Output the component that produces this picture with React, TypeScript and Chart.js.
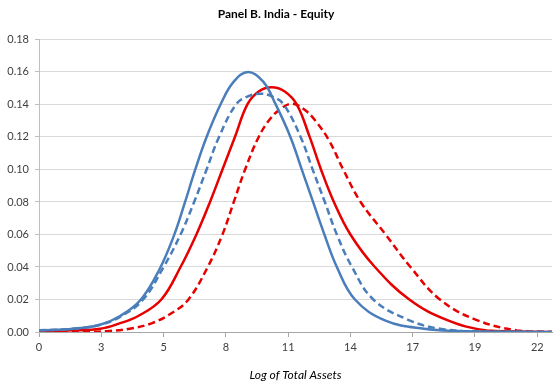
import React, { useEffect, useRef } from "react";
import { Chart, registerables } from "chart.js";

Chart.register(...registerables);

const chartTitle = "Panel B. India - Equity";
const xTitle = "Log of Total Assets";
const xTickLabels = ["0", "3", "5", "8", "11", "14", "17", "19", "22"];
const xTickStep = 2.75;
const xMax = 22.65;
const yTickValues = [0, 0.02, 0.04, 0.06, 0.08, 0.1, 0.12, 0.14, 0.16, 0.18];

// Blue solid
const blueSolidX = [0, 1.5, 2.7, 3.6, 4.5, 5.3, 5.95, 6.45, 6.9, 7.4, 8.05, 8.6, 9.24, 9.9, 10.45, 11.1, 11.6, 12.1, 12.6, 13.15, 13.95, 15.3, 17.0, 18.85, 22.65];
const blueSolidY = [0.001, 0.002, 0.0045, 0.01, 0.02, 0.038, 0.059, 0.08, 0.1, 0.12, 0.141, 0.154, 0.16, 0.154, 0.14, 0.12, 0.1, 0.08, 0.06, 0.04, 0.02, 0.007, 0.002, 0.0005, 0];

// Blue dashed
const blueDashX = [0, 1.5, 2.7, 3.6, 4.6, 5.5, 6.25, 6.85, 7.4, 7.95, 8.7, 9.2, 9.76, 10.3, 10.8, 11.55, 12.08, 12.62, 13.15, 13.82, 14.76, 16.3, 17.7, 19.5, 22.65];
const blueDashY = [0.001, 0.002, 0.0045, 0.0095, 0.02, 0.04, 0.06, 0.08, 0.1, 0.12, 0.14, 0.1448, 0.1466, 0.1448, 0.14, 0.12, 0.1, 0.08, 0.06, 0.04, 0.02, 0.0075, 0.002, 0.0003, 0];

// Red solid
const redSolidX = [0, 1.5, 2.7, 3.5, 4.4, 5.4, 6.25, 6.95, 7.55, 8.1, 8.65, 9.2, 9.7, 10.27, 10.85, 11.38, 11.95, 12.45, 13.02, 13.75, 14.83, 16.35, 18.0, 19.77, 22.65];
const redSolidY = [0.0005, 0.001, 0.002, 0.005, 0.01, 0.02, 0.04, 0.06, 0.08, 0.1, 0.12, 0.14, 0.148, 0.1506, 0.148, 0.14, 0.12, 0.1, 0.08, 0.06, 0.04, 0.02, 0.0075, 0.001, 0];

// Red dashed
const redDashX = [0, 2.0, 3.0, 4.0, 5.0, 5.9, 6.6, 7.45, 8.1, 8.6, 9.1, 9.7, 10.2, 10.65, 11.16, 11.7, 12.2, 12.8, 13.43, 14.2, 15.3, 16.4, 17.7, 19.3, 21.1, 22.65];
const redDashY = [0, 0, 0.0005, 0.002, 0.0055, 0.012, 0.02, 0.04, 0.06, 0.08, 0.1, 0.12, 0.131, 0.137, 0.1404, 0.137, 0.13, 0.118, 0.1, 0.08, 0.06, 0.04, 0.02, 0.0075, 0.001, 0];

const BLUE = "#4a7ebb";
const RED = "#e60000";
const FONT = "Lato";

function pts(xs: number[], ys: number[]) {
  return xs.map((x, i) => ({ x, y: ys[i] }));
}

export default function App() {
  const ref = useRef<HTMLCanvasElement | null>(null);

  useEffect(() => {
    if (!ref.current) return;
    const mk = (label: string, xs: number[], ys: number[], color: string, dashed: boolean) => ({
      label,
      data: pts(xs, ys),
      borderColor: color,
      backgroundColor: color,
      borderWidth: 2.5,
      borderDash: dashed ? [7, 4] : [],
      pointRadius: 0,
      tension: 0.4,
      fill: false,
    });
    const chart = new Chart(ref.current, {
      type: "line",
      data: {
        datasets: [
          mk("Blue solid", blueSolidX, blueSolidY, BLUE, false),
          mk("Blue dashed", blueDashX, blueDashY, BLUE, true),
          mk("Red solid", redSolidX, redSolidY, RED, false),
          mk("Red dashed", redDashX, redDashY, RED, true),
        ],
      },
      options: {
        animation: false,
        responsive: true,
        maintainAspectRatio: false,
        layout: { padding: { left: 0, right: 8, top: 0, bottom: 0 } },
        plugins: {
          legend: { display: false },
          tooltip: { enabled: false },
          title: {
            display: true,
            text: chartTitle,
            color: "#000",
            font: { family: FONT, size: 12, weight: "bold" },
            padding: { top: 7, bottom: 18 },
          },
        },
        scales: {
          x: {
            type: "linear",
            min: 0,
            max: xMax,
            afterBuildTicks: (scale: any) => {
              scale.ticks = xTickLabels.map((_, i) => ({ value: i * xTickStep }));
            },
            afterFit: (scale: any) => {
              scale.height = 53;
            },
            ticks: {
              autoSkip: false,
              maxRotation: 0,
              color: "#404040",
              font: { family: FONT, size: 11 },
              padding: 4,
              callback: (_v: any, i: number) => xTickLabels[i],
            },
            grid: {
              drawOnChartArea: false,
              drawTicks: true,
              tickLength: 5,
              tickColor: "#a6a6a6",
            },
            border: { color: "#a6a6a6", width: 1 },
            title: {
              display: true,
              text: xTitle,
              color: "#000",
              font: { family: FONT, size: 12, style: "italic" },
              padding: { top: 0, bottom: 3 },
            },
          },
          y: {
            min: 0,
            max: 0.18,
            afterBuildTicks: (scale: any) => {
              scale.ticks = yTickValues.map((v) => ({ value: v }));
            },
            afterFit: (scale: any) => {
              scale.width = 39;
            },
            ticks: {
              color: "#404040",
              font: { family: FONT, size: 11 },
              padding: 6,
              callback: (v: any) => Number(v).toFixed(2),
            },
            grid: {
              color: "#d9d9d9",
              drawTicks: true,
              tickLength: 4,
              tickColor: "#bfbfbf",
            },
            border: { color: "#bfbfbf", width: 1 },
          },
        },
      },
    } as any);
    return () => chart.destroy();
  }, []);

  return (
    <div style={{ position: "absolute", left: 0, top: 0, width: 560, height: 385, background: "#fff" }}>
      <canvas ref={ref} />
    </div>
  );
}
